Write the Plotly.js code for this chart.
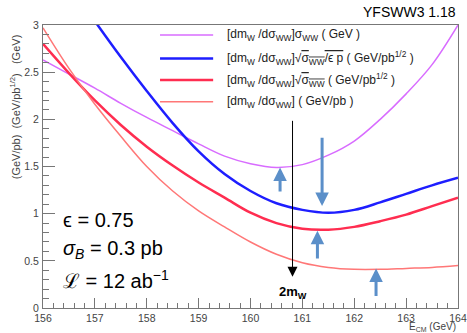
<!DOCTYPE html>
<html>
<head>
<meta charset="utf-8">
<script src="https://cdn.plot.ly/plotly-3.0.1.min.js"></script>
<style>html,body{margin:0;padding:0;background:#fff;}#chart{width:467px;height:333px;}</style>
</head>
<body>
<div id="chart"></div>
<script>
// Centre-of-mass energy grid (GeV)
const energy = [156, 156.5, 157, 157.5, 158, 158.5, 159, 159.5, 160, 160.5, 161, 161.5, 162, 162.5, 163, 163.5, 164];

// [dmW/dσWW]·σWW (GeV)
const sigmaWeighted = [2.63, 2.48, 2.33, 2.17, 2.02, 1.88, 1.74, 1.61, 1.53, 1.49, 1.52, 1.62, 1.77, 2.00, 2.27, 2.58, 3.00];
// [dmW/dσWW]·sqrt(σWW/εp) (GeV/pb^1/2)
const sqrtSigmaEffPur = [null, null, 3.04, 2.66, 2.30, 1.96, 1.66, 1.42, 1.24, 1.11, 1.04, 1.01, 1.04, 1.12, 1.21, 1.30, 1.38];
// [dmW/dσWW]·sqrt(σWW) (GeV/pb^1/2)
const sqrtSigma = [2.80, 2.49, 2.20, 1.94, 1.71, 1.51, 1.33, 1.17, 1.01, 0.90, 0.84, 0.83, 0.86, 0.92, 0.99, 1.08, 1.17];
// [dmW/dσWW] (GeV/pb)
const plain = [2.97, 2.54, 2.16, 1.82, 1.50, 1.24, 1.03, 0.86, 0.70, 0.57, 0.48, 0.43, 0.41, 0.41, 0.42, 0.43, 0.45];

const seriesNames = [
  "[dm<sub>W</sub> /dσ<sub>WW</sub>]σ<sub>WW</sub> ( GeV )",
  "[dm<sub>W</sub> /dσ<sub>WW</sub>]√<span style=\"text-decoration:overline\">σ<sub>WW</sub>/ϵ p</span> ( GeV/pb<sup>1/2</sup> )",
  "[dm<sub>W</sub> /dσ<sub>WW</sub>]√<span style=\"text-decoration:overline\">σ<sub>WW</sub></span> ( GeV/pb<sup>1/2</sup> )",
  "[dm<sub>W</sub> /dσ<sub>WW</sub>] ( GeV/pb )"
];
const seriesColors = ["#d86cff", "#1e1eff", "#ff2d50", "#ff7777"];
const seriesWidths = [1.5, 2.5, 2.5, 1.5];
const seriesValues = [sigmaWeighted, sqrtSigmaEffPur, sqrtSigma, plain];

// Threshold marker 2mW and blue indicator arrows [x, tipY, tailY]
const twoMW = 160.81, twoMWTop = 2.0, twoMWTip = 0.33, twoMWLabelY = 0.16;
const blueArrows = [
  [160.57, 1.49, 1.22],
  [161.38, 1.08, 1.82],
  [161.29, 0.82, 0.51],
  [162.42, 0.42, 0.11]
];

const FONT = "Liberation Sans, Arial, sans-serif";

const traces = seriesValues.map((v, i) => ({
  x: energy, y: v, type: "scatter", mode: "lines",
  line: {color: seriesColors[i], width: seriesWidths[i], shape: "spline", smoothing: 1},
  name: seriesNames[i], showlegend: false, hoverinfo: "skip"
}));

// Manual legend (paper coords)
const legendY = [0.965, 0.882, 0.806, 0.729];
const shapes = [];
const annotations = [];
legendY.forEach((ly, i) => {
  shapes.push({type: "line", xref: "paper", yref: "paper", x0: 0.282, x1: 0.410, y0: ly, y1: ly,
    line: {color: seriesColors[i], width: seriesWidths[i]}});
  annotations.push({xref: "paper", yref: "paper", x: 0.438, y: ly, xanchor: "left", yanchor: "middle",
    text: seriesNames[i], showarrow: false, font: {family: FONT, size: 12, color: "#222"}});
});

// 2mW arrow
annotations.push({x: twoMW, y: twoMWTip, ax: twoMW, ay: twoMWTop, axref: "x", ayref: "y", xref: "x", yref: "y",
  text: "", showarrow: true, arrowhead: 2, arrowsize: 2, arrowwidth: 1, arrowcolor: "#000"});
annotations.push({x: twoMW, y: twoMWLabelY, xref: "x", yref: "y", text: "<b>2m<sub>W</sub></b>", showarrow: false,
  font: {family: FONT, size: 13, color: "#000"}});

blueArrows.forEach(a => {
  annotations.push({x: a[0], y: a[1], ax: a[0], ay: a[2], axref: "x", ayref: "y", xref: "x", yref: "y",
    text: "", showarrow: true, arrowhead: 2, arrowsize: 0.9, arrowwidth: 3, arrowcolor: "#5b8fc9"});
});

// Parameter text
const params = ["ϵ = 0.75", "<i>σ</i><sub><i>B</i></sub> = 0.3 pb", "ℒ = 12 ab<sup>−1</sup>"];
const paramY = [0.311, 0.205, 0.102];
params.forEach((t, i) => annotations.push({xref: "paper", yref: "paper", x: 0.044, y: paramY[i],
  xanchor: "left", yanchor: "middle", text: t, showarrow: false, font: {family: FONT, size: 20, color: "#000"}}));

// Titles
annotations.push({xref: "paper", yref: "paper", x: 1.0, y: 1.045, xanchor: "right", yanchor: "middle",
  text: "YFSWW3 1.18", showarrow: false, font: {family: FONT, size: 14, color: "#000"}});
annotations.push({xref: "paper", yref: "paper", x: 1.0, y: -0.066, xanchor: "right", yanchor: "middle",
  text: "E<sub>CM</sub> (GeV)", showarrow: false, font: {family: FONT, size: 10, color: "#444"}});
annotations.push({xref: "paper", yref: "paper", x: -0.068, y: 0.712, xanchor: "center", yanchor: "middle",
  textangle: -90, text: "(GeV/pb)\u00a0\u00a0(GeV/pb<sup>1/2</sup>)\u00a0\u00a0\u00a0(GeV)", showarrow: false,
  font: {family: FONT, size: 11, color: "#444"}});

const axisCommon = {
  showgrid: false, zeroline: false, showline: true, linecolor: "#777", linewidth: 1, mirror: true,
  ticks: "inside", tickcolor: "#777", tickwidth: 1,
  tickfont: {family: FONT, size: 10.5, color: "#444"}
};

const layout = {
  width: 467, height: 333,
  margin: {l: 43, r: 9, t: 25, b: 25, pad: 0},
  paper_bgcolor: "#fff", plot_bgcolor: "#fff",
  font: {family: FONT},
  xaxis: Object.assign({}, axisCommon, {range: [156, 164], dtick: 1, tick0: 156, ticklen: 10,
    minor: {dtick: 0.2, ticks: "inside", ticklen: 5, tickcolor: "#777"}}),
  yaxis: Object.assign({}, axisCommon, {range: [0, 3], dtick: 0.5, tick0: 0, ticklen: 12,
    ticklabelstandoff: 1,
    minor: {dtick: 0.1, ticks: "inside", ticklen: 6, tickcolor: "#777"}}),
  shapes: shapes,
  annotations: annotations,
  showlegend: false
};

Plotly.newPlot("chart", traces, layout, {staticPlot: true, displayModeBar: false});
</script>
</body>
</html>
